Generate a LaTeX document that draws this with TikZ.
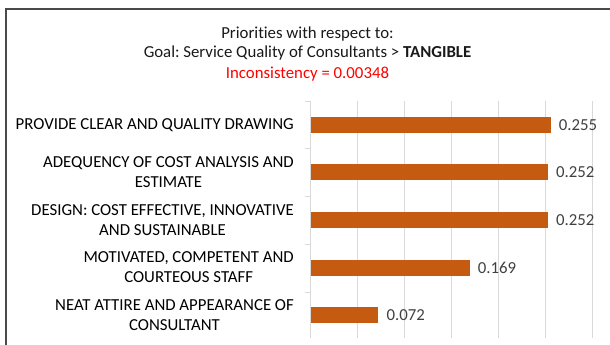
\documentclass[tikz,border=0pt]{standalone}
\usepackage{fontspec}
\setmainfont{Carlito}[Ligatures=CommonOff]
\frenchspacing
\usetikzlibrary{positioning}
\definecolor{barorange}{HTML}{C55A11}
\definecolor{gridgray}{HTML}{D9D9D9}
\definecolor{framegray}{HTML}{4A4A4A}
\definecolor{valgray}{HTML}{404040}
\tikzset{
	x=1pt,
	y=-1pt,
	every node/.style={font=\fontsize{16.8}{20}\selectfont, inner sep=0pt},
	title/.style={anchor=base, text=black!90},
	catlabel/.style={anchor=east, align=center, text=black},
	bar/.style={fill=barorange, draw=none},
	value/.style={anchor=west, text=valgray},
	grid line/.style={draw=gridgray, line width=0.9pt},
	frame/.style={draw=framegray, line width=2pt}
}

\begin{document}
\begin{tikzpicture}
	\useasboundingbox (0,0) rectangle (610,345);
	\draw [frame] (611,9.5) -- (5.5,9.5) -- (5.5,346);
	
	\node [title] (t1) at (307.5,38) {Priorities with respect to:};
	\node [title] (t2) at (307.5,57.5) {Goal: Service Quality of Consultants > \textbf{TANGIBLE}};
	\node [title, text=red] (t3) at (307.5,78) {Inconsistency = 0.00348};
	
	\foreach \k in {0,...,6}
		\draw [grid line] (310.7+47*\k,101) -- (310.7+47*\k,338);
	\foreach \k in {0,...,4}
		\draw [grid line] (305,101+47.75*\k) -- (310.7,101+47.75*\k);
	
	\foreach \v/\txt [count=\i] in {
		0.255/{PROVIDE CLEAR AND QUALITY DRAWING},
		0.252/{ADEQUENCY OF COST ANALYSIS AND\\ESTIMATE},
		0.252/{DESIGN: COST EFFECTIVE, INNOVATIVE\\AND SUSTAINABLE},
		0.169/{MOTIVATED, COMPETENT AND\\COURTEOUS STAFF},
		0.072/{NEAT ATTIRE AND APPEARANCE OF\\CONSULTANT}}
	{
		\pgfmathsetmacro\yc{124.7+47.6*(\i-1)}
		\pgfmathsetmacro\xe{310.7+941*\v}
		\fill [bar] (310.7,\yc-8) rectangle (\xe,\yc+8);
		\node [catlabel] (cat\i) at (294,\yc) {\txt};
		\node [value] (val\i) at (\xe+8,\yc) {\v};
	}
\end{tikzpicture}
\end{document}
